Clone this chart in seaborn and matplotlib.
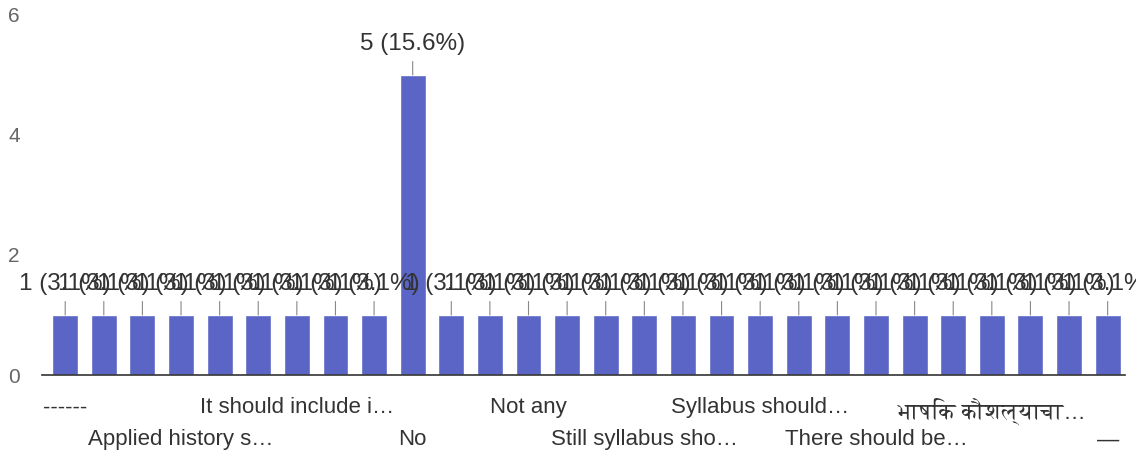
import glob
import matplotlib
matplotlib.use("Agg")
import matplotlib.pyplot as plt
from matplotlib import font_manager
from matplotlib.ft2font import FT2Font
import seaborn as sns
import pandas as pd

# ---- data ----
responses = [
    "------", "(response 2)", "(response 3)",
    "Applied history s\u2026", "(response 5)", "(response 6)",
    "It should include i\u2026", "(response 8)", "(response 9)",
    "No", "(response 11)", "(response 12)",
    "Not any", "(response 14)", "(response 15)",
    "Still syllabus sho\u2026", "(response 17)", "(response 18)",
    "Syllabus should\u2026", "(response 20)", "(response 21)",
    "There should be\u2026", "(response 23)", "(response 24)",
    "\u092d\u093e\u0937\u093f\u0915 \u0915\u094c\u0936\u0932\u094d\u092f\u093e\u091a\u093e\u2026", "(response 26)", "(response 27)",
    "\u2014",
]
counts = [1, 1, 1, 1, 1, 1, 1, 1, 1, 5, 1, 1, 1, 1, 1, 1, 1, 1, 1, 1, 1, 1, 1, 1, 1, 1, 1, 1]
shown_every = 3
y_ticks = [0, 2, 4, 6]

# ---- fonts: find one with Devanagari ----
deva = None
for path in glob.glob("/usr/share/fonts/**/*.[ot]tf", recursive=True):
    try:
        f = FT2Font(path)
        if f.get_char_index(ord("\u092d")) and f.get_char_index(ord("\u0936")):
            deva = font_manager.FontProperties(fname=path).get_name()
            font_manager.fontManager.addfont(path)
            break
    except Exception:
        pass

sns.set_theme(style="white")
fams = ["Liberation Sans", "DejaVu Sans"]
if deva:
    fams.insert(1, deva)
plt.rcParams["font.family"] = fams

df = pd.DataFrame({"response": responses, "count": counts})
total = sum(counts)

fig = plt.figure(figsize=(11.36, 4.54), dpi=100)
ax = fig.add_axes([0.037, 0.174, 0.953, 0.793])
sns.barplot(data=df, x="response", y="count", order=responses, color="#5b65c6",
            saturation=1, width=0.67, ax=ax)

ax.set_ylim(0, 6)
ax.set_xlim(-0.6, len(responses) - 0.56)
ax.set_yticks(y_ticks)
ax.set_yticklabels([str(t) for t in y_ticks], color="#666666", fontsize=15)
ax.tick_params(axis="y", length=0, pad=16)

idx = list(range(0, len(responses), shown_every))
labels = []
for k, i in enumerate(idx):
    t = responses[i]
    labels.append(t if k % 2 == 0 else "\n" + t)
ax.set_xticks(idx)
ax.set_xticklabels(labels, color="#333333", fontsize=16, linespacing=1.7)
ax.tick_params(axis="x", length=0, pad=16)

for s in ["top", "right", "left"]:
    ax.spines[s].set_visible(False)
ax.spines["bottom"].set_color("#333333")
ax.spines["bottom"].set_linewidth(1.2)
ax.set_xlabel("")
ax.set_ylabel("")

for i, v in enumerate(counts):
    ax.annotate(f"{v} ({v / total * 100:.1f}%)", xy=(i, v), xytext=(0, 22),
                textcoords="offset points", ha="center", va="center",
                fontsize=17.5, color="#333333", annotation_clip=False,
                arrowprops=dict(arrowstyle="-", color="#888888", lw=0.8,
                                shrinkA=2, shrinkB=0))

fig.savefig("out.png", dpi=100)
